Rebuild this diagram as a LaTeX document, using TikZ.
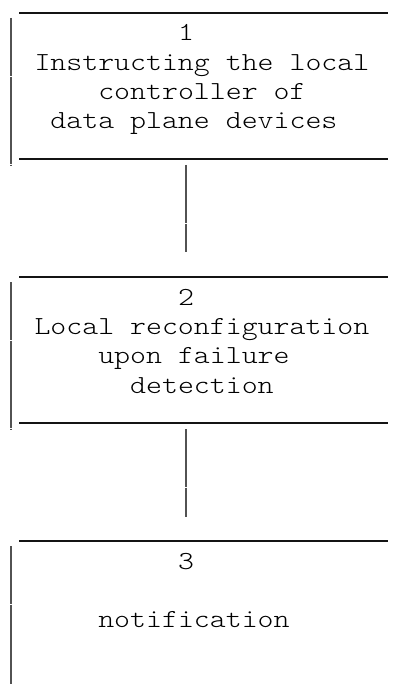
\documentclass[tikz,border=0pt]{standalone}
\usepackage{fontspec}
% light typewriter face, widened to a 15.95pt character pitch
\newfontfamily\monofont[FakeStretch=1.168]{lmmonolt10-regular.otf}
\begin{document}
\begin{tikzpicture}[x=1pt,y=-1pt,
  hrule/.style={line width=1.6pt, color=black!92},
  vrule/.style={line width=2pt, color=black!68, dash pattern=on 29.03pt off 0.3pt},
  boxarea/.style={rectangle, draw=none, inner sep=0pt, outer sep=0pt,
    minimum width=377.5pt, minimum height=146pt, anchor=north west},
  linetext/.style={inner sep=0pt, outer sep=0pt, anchor=base west, text=black,
    font=\monofont\fontsize{26pt}{29.33pt}\selectfont},
]
\path[use as bounding box] (0,0) rectangle (392,684);
\clip (0,0) rectangle (392,684);

% step boxes (open on the right)
\node[boxarea] (box1) at (10.5,13) {};
\node[boxarea] (box2) at (10.5,277) {};
\node[boxarea] (box3) at (10.5,541) {};

% step 1
\node[linetext] (n1)  at (178.05,41)    {1};
\node[linetext] (t1a) at (34.5,70.33)   {Instructing the local};
\node[linetext] (t1b) at (98.3,99.67)   {controller of};
\node[linetext] (t1c) at (50.45,129)    {data plane devices};

% step 2
\node[linetext] (n2)  at (178.05,305)   {2};
\node[linetext] (t2a) at (34.5,334.33)  {Local reconfiguration};
\node[linetext] (t2b) at (98.3,363.67)  {upon failure};
\node[linetext] (t2c) at (130.2,393)    {detection};

% step 3
\node[linetext] (n3)  at (178.05,569)   {3};
\node[linetext] (t3a) at (98.3,627.67)  {notification};

% box outlines
\foreach \b in {box1,box2,box3}{
  \draw[hrule] ([xshift=8.5pt]\b.north west) -- (\b.north east);
  \draw[vrule] ([yshift=-5pt]\b.north west) -- ([yshift=-5.7pt]\b.south west);
}
\foreach \b in {box1,box2}{
  \draw[hrule] ([xshift=8.5pt]\b.south west) -- (\b.south east);
}

% connectors between steps
\draw[vrule, shorten <=6pt, shorten >=24.5pt] (box1.south -| n1) -- (box2.north -| n1);
\draw[vrule, shorten <=6pt, shorten >=24.5pt] (box2.south -| n2) -- (box3.north -| n2);
\end{tikzpicture}
\end{document}
